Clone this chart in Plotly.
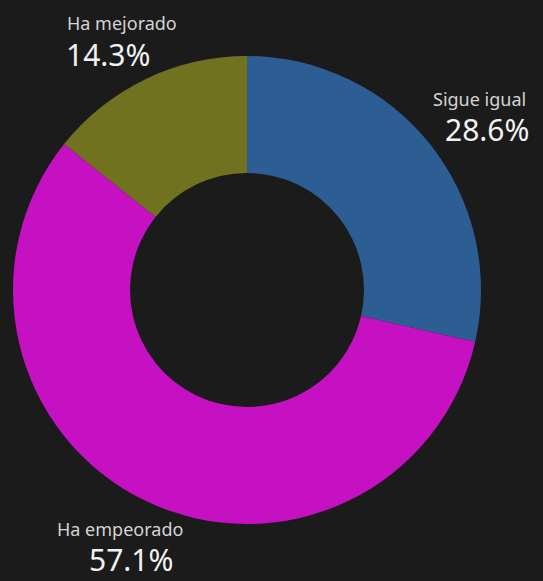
import plotly.graph_objects as go

labels = ["Sigue igual", "Ha empeorado", "Ha mejorado"]
values = [2, 4, 1]
colors = ["#2c5d93", "#c511c2", "#71721f"]

W, H = 543, 581
total = sum(values)
pcts = [v / total * 100 for v in values]

fig = go.Figure(go.Pie(
    labels=labels, values=values, sort=False, direction="clockwise", rotation=0,
    hole=0.5, marker=dict(colors=colors, line=dict(width=0)),
    textinfo="none", hoverinfo="label+percent", showlegend=False,
    domain=dict(x=[13 / W, 481 / W], y=[1 - 524 / H, 1 - 56 / H]),
))

# label placement (pixel positions of text boxes)
pos = {
    "Ha mejorado": dict(lx=66, ly=23, la="left", px=65, py=54, pa="left"),
    "Sigue igual": dict(lx=527, ly=99, la="right", px=530, py=129, pa="right"),
    "Ha empeorado": dict(lx=56, ly=529, la="left", px=88, py=559, pa="left"),
}
for lab, p in zip(labels, pcts):
    q = pos[lab]
    fig.add_annotation(x=q["lx"] / W, y=1 - q["ly"] / H, xref="paper", yref="paper",
                       text=lab, showarrow=False, xanchor=q["la"], yanchor="middle",
                       borderpad=0,
                       font=dict(family="Noto Sans", size=18, color="#d4d4d4"))
    fig.add_annotation(x=q["px"] / W, y=1 - q["py"] / H, xref="paper", yref="paper",
                       text=f"{p:.1f}%", showarrow=False, xanchor=q["pa"], yanchor="middle",
                       borderpad=0,
                       font=dict(family="Noto Sans", size=30, color="#f2f2f2"))

fig.update_layout(
    width=W, height=H, margin=dict(l=0, r=0, t=0, b=0),
    paper_bgcolor="#1b1b1b", plot_bgcolor="#1b1b1b",
)
fig.write_html("out.html", config={"displayModeBar": False},
               post_script="document.body.style.margin='0';document.body.style.background='#1b1b1b';")
